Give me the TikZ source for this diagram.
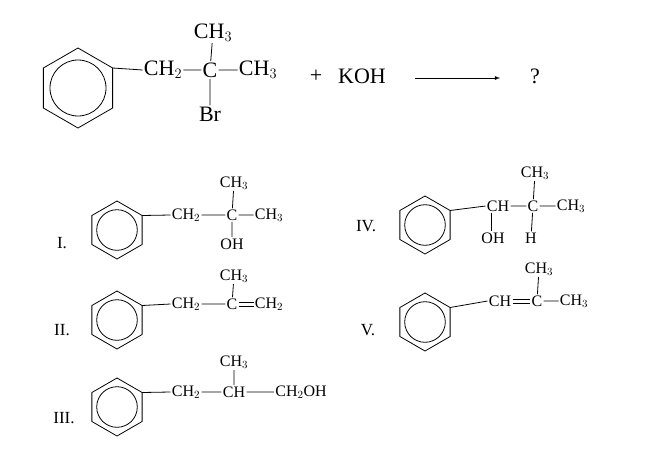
\documentclass[tikz,border=0pt]{standalone}
\usepackage{fontspec}
\setmainfont{Liberation Serif}
\usetikzlibrary{positioning, calc}
\tikzset{
    grp/.style={inner sep=1pt, font=\fontsize{16}{16}\selectfont}, % small groups
    big/.style={inner sep=1pt, font=\fontsize{22}{22}\selectfont}, % main reaction
    lbl/.style={font=\fontsize{17}{17}\selectfont},
}
% \ring{name}{center}{radius}
\newcommand{\ring}[3]{
    \draw (#2) +(90:#3) -- +(30:#3) -- +(-30:#3) -- +(-90:#3) -- +(-150:#3) -- +(150:#3) -- cycle;
    \draw (#2) circle ({0.7*#3});
    \coordinate (#1) at ($(#2)+(-30:#3)$);
}
\begin{document}
\begin{tikzpicture}[x=1pt,y=-1pt, line width=0.8pt]
\useasboundingbox (0,0) rectangle (650,453);
% main reaction
\ring{r0}{78,88}{40}
\node[big] (a1) at (163,70) {CH$_2$};
\node[big] (a2) at (210,70) {C};
\node[big] (a3) at (258,70) {CH$_3$};
\node[big] (a4) at (213,33) {CH$_3$};
\node[big] (a5) at (210,114) {Br};
\draw (r0) -- (a1.west) (a1) -- (a2) (a2) -- (a3) (a2) -- (a4) (a2) -- (a5);
\node[big] (plus) at (316,76) {+};
\node[big] (koh) at (362,76) {KOH};
\coordinate (arr1) at (415,78);
\coordinate (arr2) at (500,78);
\draw[-latex, thick] (arr1) -- (arr2);
\node[big] (q) at (535,76) {?};
% I
\node[lbl] at (62,243) {I.};
\ring{r1}{117,230}{29}
\node[grp] (b1) at (186,215) {CH$_2$};
\node[grp] (b2) at (232,215) {C};
\node[grp] (b3) at (269,215) {CH$_3$};
\node[grp] (b4) at (234,183) {CH$_3$};
\node[grp] (b5) at (232,244) {OH};
\draw (r1) -- (b1.west) (b1) -- (b2) (b2) -- (b3) (b2) -- (b4) (b2) -- (b5);
% II
\node[lbl] at (62,330) {II.};
\ring{r2}{117,320}{29}
\node[grp] (c1) at (186,304) {CH$_2$};
\node[grp] (c2) at (232,304) {C};
\node[grp] (c3) at (269,304) {CH$_2$};
\node[grp] (c4) at (234,276) {CH$_3$};
\draw (r2) -- (c1.west) (c1) -- (c2) (c2) -- (c4);
\draw ([yshift=-2]c2.east) -- ([yshift=-2]c3.west) ([yshift=2]c2.east) -- ([yshift=2]c3.west);
% III
\node[lbl] at (64,418) {III.};
\ring{r3}{117,407}{29}
\node[grp] (d1) at (186,392) {CH$_2$};
\node[grp] (d2) at (234,392) {CH};
\node[grp] (d3) at (301,392) {CH$_2$OH};
\node[grp] (d4) at (234,362) {CH$_3$};
\draw (r3) -- (d1.west) (d1) -- (d2) (d2) -- (d3) (d2) -- (d4);
% IV
\node[lbl] at (366,226) {IV.};
\ring{r4}{425,225}{29}
\node[grp] (e1) at (498,206) {CH};
\node[grp] (e2) at (533,206) {C};
\node[grp] (e3) at (571,206) {CH$_3$};
\node[grp] (e4) at (535,173) {CH$_3$};
\node[grp] (e5) at (493,238) {OH};
\node[grp] (e6) at (531,238) {H};
\draw (r4) -- (e1.west) (e1) -- (e2) (e2) -- (e3) (e2) -- (e4) (e2) -- (e6);
\draw ([xshift=-7]e1.south) -- ([xshift=-7]e1.south |- e5.north);
% V
\node[lbl] at (368,330) {V.};
\ring{r5}{425,322}{29}
\node[grp] (f1) at (500,301) {CH};
\node[grp] (f2) at (537,301) {C};
\node[grp] (f3) at (574,301) {CH$_3$};
\node[grp] (f4) at (539,269) {CH$_3$};
\draw (r5) -- (f1.west) (f2) -- (f3) (f2) -- (f4);
\draw ([yshift=-2]f1.east) -- ([yshift=-2]f2.west) ([yshift=2]f1.east) -- ([yshift=2]f2.west);
\end{tikzpicture}
\end{document}
